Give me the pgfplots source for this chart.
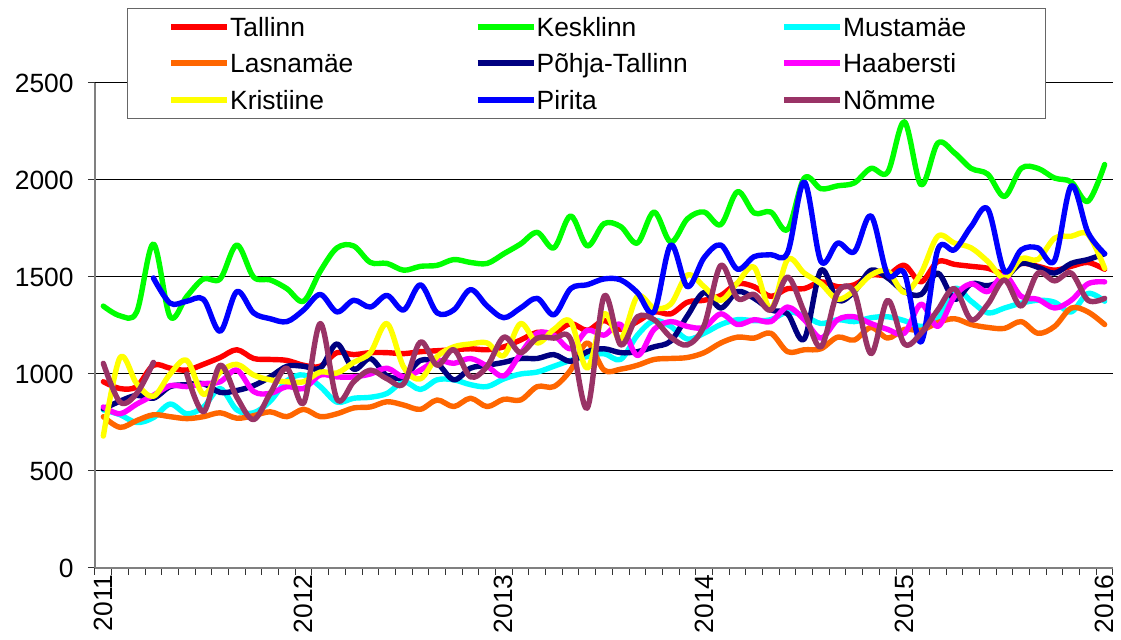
\documentclass[border=0pt]{standalone}
\usepackage{fontspec}
\setmainfont{Liberation Sans}
\usepackage{pgfplots}
\usepackage{pgfplotstable}
\pgfplotsset{compat=1.18}
\definecolor{cTal}{HTML}{FF0000}
\definecolor{cKes}{HTML}{00FF00}
\definecolor{cMus}{HTML}{00FFFF}
\definecolor{cLas}{HTML}{FF6600}
\definecolor{cPoh}{HTML}{000080}
\definecolor{cHaa}{HTML}{FF00FF}
\definecolor{cKri}{HTML}{FFFF00}
\definecolor{cPir}{HTML}{0000FF}
\definecolor{cNom}{HTML}{993366}
\pgfplotstableread{
m Tal Kes Mus Las Poh Haa Kri Pir Nom
0 960 1350 815 780 820 830 680 nan 1055
1 925 1300 790 725 860 795 1085 nan 855
2 935 1320 750 760 890 845 950 nan 900
3 1045 1670 775 790 875 890 885 1495 1060
4 1030 1295 845 780 935 940 1000 1365 nan
5 1020 1400 795 770 945 935 1070 1375 1000
6 1050 1490 830 780 950 950 895 1385 805
7 1085 1490 925 800 905 960 1010 1220 1045
8 1125 1665 815 772 915 1020 1050 1425 880
9 1080 1500 800 785 940 910 995 1315 765
10 1075 1485 860 805 985 900 970 1285 900
11 1070 1440 965 780 1040 935 960 1270 1030
12 1045 1375 995 818 1040 925 960 1330 850
13 1040 1530 935 780 1030 995 1010 1410 1260
14 1110 1650 855 795 1155 985 1005 1320 870
15 1100 1660 875 825 1025 985 1060 1380 960
16 1110 1575 880 830 1080 1000 1110 1345 1020
17 1110 1570 900 857 990 1030 1260 1405 975
18 1105 1535 960 840 985 985 1035 1330 950
19 1115 1555 920 818 1070 1020 975 1460 1165
20 1120 1560 970 866 1055 1070 1090 1315 1045
21 1125 1590 970 832 970 1055 1140 1330 1125
22 1130 1575 945 875 1030 1080 1155 1435 985
23 1125 1570 935 832 1045 1040 1160 1350 1040
24 1140 1620 975 870 1060 990 1095 1290 1190
25 1175 1670 1000 866 1080 1105 1260 1340 1110
26 1215 1730 1010 935 1080 1210 1160 1390 1185
27 1210 1650 1040 935 1100 1200 1230 1305 1185
28 1260 1815 1070 1020 1065 1130 1270 1440 1180
29 1225 1660 1090 1160 1115 1225 1030 1460 825
30 1275 1775 1105 1020 1130 1200 1310 1490 1400
31 1230 1760 1075 1025 1110 1255 1180 1485 1150
32 1270 1675 1200 1045 1115 1095 1400 1420 1295
33 1320 1835 1275 1075 1140 1230 1340 1320 1280
34 1310 1680 1245 1080 1170 1270 1360 1665 1190
35 1370 1800 1180 1085 1300 1245 1510 1450 1150
36 1380 1835 1210 1110 1420 1240 1450 1600 1250
37 1405 1770 1255 1160 1340 1310 1380 1665 1560
38 1465 1940 1280 1190 1425 1255 1470 1540 1390
39 1450 1830 1275 1185 1390 1280 1550 1605 1410
40 1400 1835 1280 1210 1330 1270 1335 1615 1330
41 1440 1745 1320 1115 1310 1345 1590 1625 1500
42 1440 2010 1300 1125 1180 1280 1520 1990 1320
43 1475 1955 1260 1130 1535 1185 1465 1580 1140
44 1450 1970 1280 1190 1380 1280 1385 1675 1420
45 1460 1985 1270 1175 1425 1295 1430 1630 1420
46 1510 2060 1290 1240 1535 1260 1510 1815 1105
47 1510 2040 1295 1185 1495 1230 1530 1510 1380
48 1560 2300 1275 1230 1425 1210 1420 1520 1155
49 1475 1975 1245 1225 1410 1360 1520 1165 1210
50 1580 2190 1280 1265 1520 1245 1710 1640 1330
51 1565 2140 1440 1285 1385 1400 1675 1640 1440
52 1555 2060 1375 1255 1465 1465 1650 1760 1280
53 1545 2030 1315 1240 1455 1425 1580 1850 1360
54 1520 1915 1340 1235 1490 1510 1495 1530 1485
55 1570 2060 1365 1270 1570 1400 1595 1640 1350
56 1555 2060 1380 1210 1550 1385 1590 1650 1520
57 1535 2010 1370 1245 1520 1340 1700 1585 1480
58 1555 1990 1320 1340 1570 1380 1710 1970 1520
59 1575 1890 1415 1320 1590 1465 1720 1730 1380
60 1540 2080 1375 1255 1620 1475 1545 1620 1390
}\data
\newcommand{\legtxt}[1]{\makebox[103.25pt][l]{#1}}
\newcommand{\legtxtc}[1]{\makebox[100pt][l]{#1}}
\begin{document}
\begin{tikzpicture}
\begin{axis}[
  scale only axis, width=509pt, height=242.5pt,
  xmin=-0.5, xmax=60.5, ymin=0, ymax=2500,
  axis x line*=bottom, axis y line*=left,
  axis line style={draw=gray, line width=0.75pt},
  tick align=outside,
  major tick length=3.5pt,
  tick style={black!80, line width=0.5pt},
  xtick={-0.5,0.5,...,60.5}, xticklabels={},
  extra x ticks={0,12,24,36,48,60},
  extra x tick labels={2011,2012,2013,2014,2015,2016},
  extra x tick style={major tick length=0pt,
     xticklabel style={rotate=90, anchor=east, inner sep=3pt}},
  ytick={0,500,...,2500},
  yticklabel style={inner xsep=0pt, xshift=-7pt},
  ymajorgrids, grid style={black, line width=0.5pt},
  font=\fontsize{13.2}{15}\selectfont,
  tick label style={font=\fontsize{13.2}{15}\selectfont},
  /pgf/number format/assume math mode=true,
  /pgf/number format/1000 sep={},
  unbounded coords=jump,
  no markers,
  every axis plot/.append style={line width=2.7pt, smooth, tension=0.55, line join=round, line cap=round},
  legend columns=3,
  legend cell align=left,
  legend image code/.code={
     \path[draw=none,fill=none] (-20.5pt,-4.7pt) rectangle (29.5pt,4.7pt);
     \draw[#1, line width=3pt, line cap=butt] (0pt,0pt) -- (28pt,0pt);},
  legend style={at={(0.0315,1.1546)}, anchor=north west,
     draw=black!60, line width=0.6pt, fill=white,
     inner xsep=1.25pt, inner ysep=4.25pt,
     column sep=0pt, row sep=9pt,
     nodes={inner sep=0pt, text height=9.45pt, text depth=0pt},
     font=\fontsize{13.2}{15}\selectfont},
]
\addplot[cTal] table[x=m,y=Tal]{\data};
\addlegendentry{\legtxt{Tallinn}}
\addplot[cKes] table[x=m,y=Kes]{\data};
\addlegendentry{\legtxt{Kesklinn}}
\addplot[cMus] table[x=m,y=Mus]{\data};
\addlegendentry{\legtxtc{Mustamäe}}
\addplot[cLas] table[x=m,y=Las]{\data};
\addlegendentry{\legtxt{Lasnamäe}}
\addplot[cPoh] table[x=m,y=Poh]{\data};
\addlegendentry{\legtxt{Põhja-Tallinn}}
\addplot[cHaa] table[x=m,y=Haa]{\data};
\addlegendentry{\legtxtc{Haabersti}}
\addplot[cKri] table[x=m,y=Kri]{\data};
\addlegendentry{\legtxt{Kristiine}}
\addplot[cPir] table[x=m,y=Pir]{\data};
\addlegendentry{\legtxt{Pirita}}
\addplot[cNom] table[x=m,y=Nom]{\data};
\addlegendentry{\legtxtc{Nõmme}}
\end{axis}
\path[use as bounding box] (-47.5pt,-35.5pt) rectangle (513pt,284pt);
\end{tikzpicture}
\end{document}
